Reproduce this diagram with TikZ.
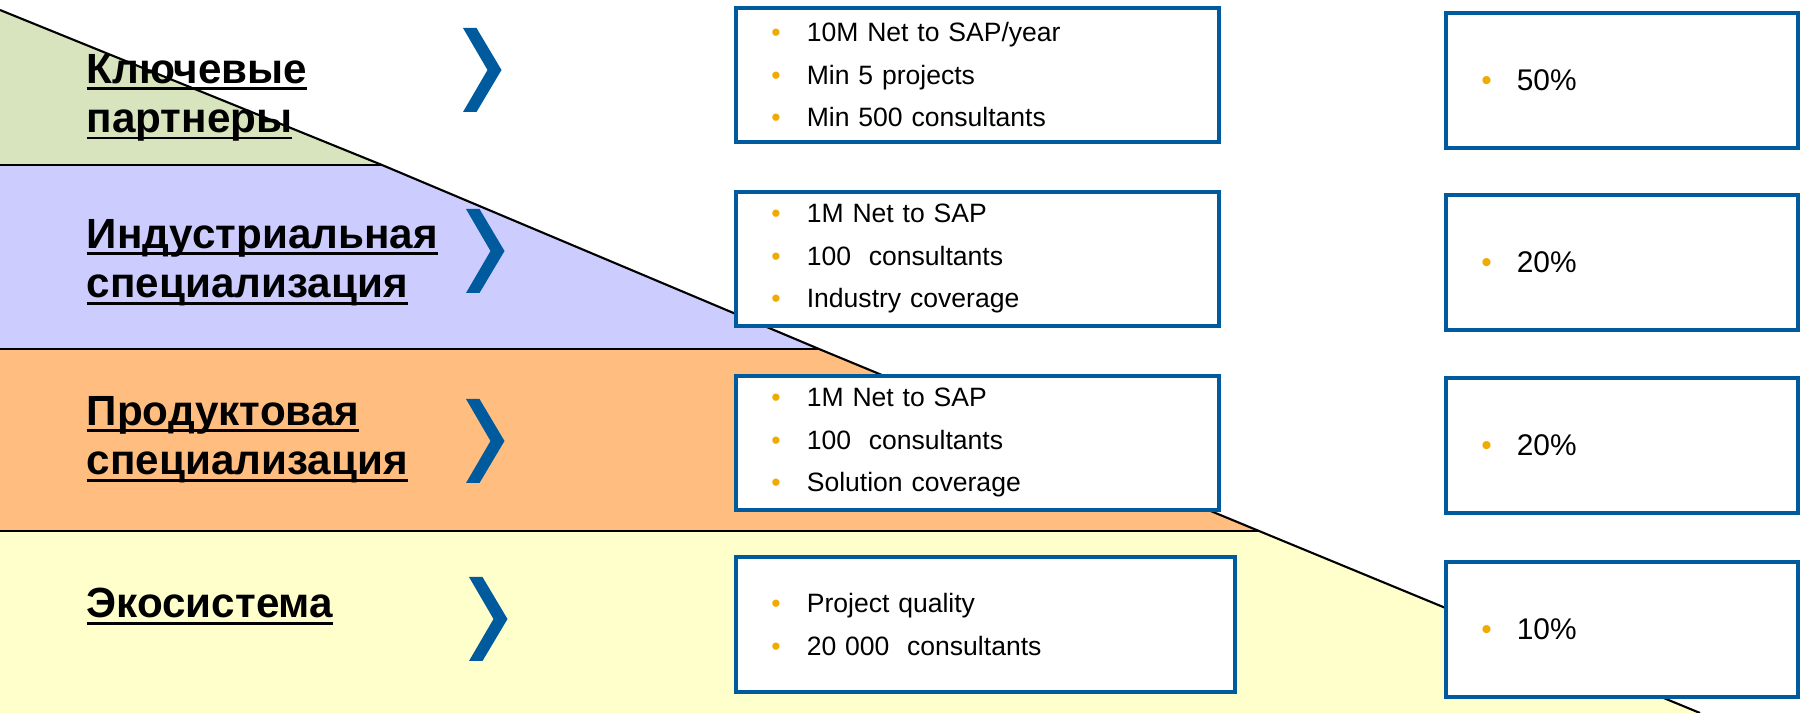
\documentclass[tikz,border=0pt]{standalone}
\usepackage{fontspec}
\setmainfont{Liberation Sans}
\usepackage{tikz}
\definecolor{bandgreen}{RGB}{215,228,189}
\definecolor{bandblue}{RGB}{204,204,255}
\definecolor{bandorange}{RGB}{255,190,128}
\definecolor{bandyellow}{RGB}{255,255,204}
\definecolor{sapblue}{RGB}{0,90,158}
\definecolor{sapgold}{RGB}{240,171,0}
\newcommand{\itm}[1]{\makebox[0.355cm][l]{\textcolor{sapgold}{\textbullet}}#1}
\newcommand{\lvl}[1]{\setbox0\hbox{#1}\rlap{\rule[-1.85pt]{\wd0}{0.85pt}}\box0}

\begin{document}
\begin{tikzpicture}[x=0.01cm,y=-0.01cm,
	level/.style={font=\fontsize{12}{14.2}\selectfont\bfseries,align=left,anchor=base west,inner sep=0pt},
	req/.style={draw=sapblue,line width=1pt,fill=white,anchor=north west,minimum width=4.83cm,minimum height=1.34cm,inner xsep=0.355cm,inner ysep=0pt,text width=4.12cm,align=left,font=\fontsize{7.55}{12.1}\selectfont},
	share/.style={req,minimum width=3.52cm,minimum height=1.35cm,text width=2.81cm,font=\fontsize{8.5}{12}\selectfont},
	border/.style={line width=0.6pt}]
	\useasboundingbox (0,0) rectangle (1803,713);
	\coordinate (slopetop) at (0,10);
	\coordinate (slopebot) at (1700,713);
	\coordinate (g) at (382,165);
	\coordinate (b) at (819,349);
	\coordinate (o) at (1259,531);
	\fill [bandgreen] (slopetop) -- (g) -- (0,165) -- cycle;
	\fill [bandblue] (0,165) -- (g) -- (b) -- (0,349) -- cycle;
	\fill [bandorange] (0,349) -- (b) -- (o) -- (0,531) -- cycle;
	\fill [bandyellow] (0,531) -- (o) -- (slopebot) -- (0,713) -- cycle;
	\draw [border] (0,165) -- (g);
	\draw [border] (0,349) -- (b);
	\draw [border] (0,531) -- (o);
	\draw [border] (slopetop) -- (g) -- (b) -- (o) -- (slopebot);
	\node[level] (key) at (86,133) {\lvl{Ключевые}\\\lvl{партнеры}};
	\node[level] (ind) at (86,298) {\lvl{Индустриальная}\\\lvl{специализация}};
	\node[level] (prod) at (86,475) {\lvl{Продуктовая}\\\lvl{специализация}};
	\node[level] (eco) at (86,618) {\lvl{Экосистема}};
	\fill [sapblue] (463,28) -- ++(13.5,0) -- ++(25,42) -- ++(-25,42) -- ++(-13.5,0) -- ++(24.5,-42) -- cycle;
	\fill [sapblue] (466,209) -- ++(13.5,0) -- ++(25,42) -- ++(-25,42) -- ++(-13.5,0) -- ++(24.5,-42) -- cycle;
	\fill [sapblue] (466,399) -- ++(13.5,0) -- ++(25,42) -- ++(-25,42) -- ++(-13.5,0) -- ++(24.5,-42) -- cycle;
	\fill [sapblue] (469,577) -- ++(13.5,0) -- ++(25,42) -- ++(-25,42) -- ++(-13.5,0) -- ++(24.5,-42) -- cycle;
	\node[req] (reqkey) at (734,6) {\itm{10M Net to SAP/year}\\\itm{Min 5 projects}\\\itm{Min 500 consultants}};
	\node[req] (reqind) at (734,190) {\itm{1M Net to SAP}\\\itm{100~ consultants}\\\itm{Industry coverage}};
	\node[req] (reqprod) at (734,374) {\itm{1M Net to SAP}\\\itm{100~ consultants}\\\itm{Solution coverage}};
	\node[req,minimum width=4.99cm,minimum height=1.35cm,text width=4.28cm] (reqeco) at (734,555) {\itm{Project quality}\\\itm{20 000~ consultants}};
	\node[share] (sharekey) at (1444,11) {\itm{50\%}};
	\node[share] (shareind) at (1444,193) {\itm{20\%}};
	\node[share] (shareprod) at (1444,376) {\itm{20\%}};
	\node[share] (shareeco) at (1444,560) {\itm{10\%}};
\end{tikzpicture}
\end{document}
